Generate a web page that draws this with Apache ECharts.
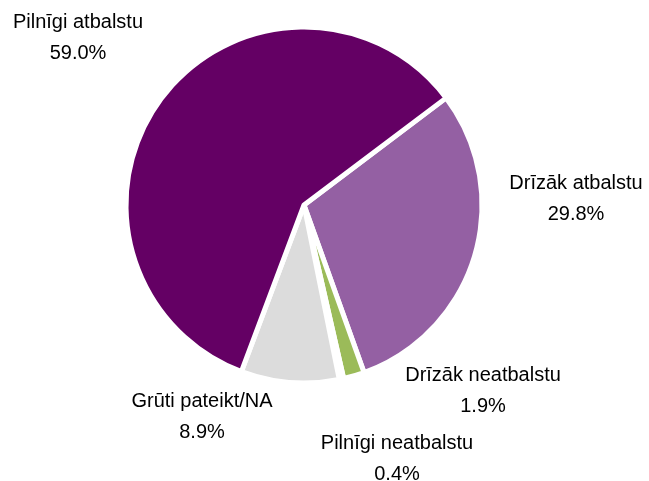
<!DOCTYPE html>
<html>
<head>
<meta charset="utf-8">
<script src="https://cdn.jsdelivr.net/npm/echarts@6/dist/echarts.min.js"></script>
<style>
  html, body { margin: 0; padding: 0; background: #fff; }
  #chart { width: 649px; height: 481px; }
</style>
</head>
<body>
<div id="chart"></div>
<script>
// slices in clockwise order, starting from the upper right
const categories = ["Drīzāk atbalstu", "Drīzāk neatbalstu", "Pilnīgi neatbalstu", "Grūti pateikt/NA", "Pilnīgi atbalstu"];
const values = [29.8, 1.9, 0.4, 8.9, 59.0];
const colors = ["#9460A3", "#9BBB59", "#4AACB0", "#DCDCDC", "#640064"];

// where each label sits (centre of the text block)
const labelPos = [[576, 199], [483, 391], [397, 459], [202, 417], [78, 38]];

var chartDom = document.getElementById("chart");
let chart = echarts.init(chartDom);

let seriesData = [];
for (let i = 0; i < categories.length; i++) {
  seriesData.push({
    name: categories[i],
    value: values[i],
    itemStyle: { color: colors[i] },
  });
}

let option = {
  animation: false,
  series: [
    {
      type: "pie",
      center: [304, 205],
      radius: 178,
      startAngle: 37,
      clockwise: true,
      avoidLabelOverlap: false,
      itemStyle: { borderColor: "#fff", borderWidth: 5 },
      emphasis: { disabled: true },
      labelLine: { show: false },
      label: {
        show: true,
        position: "outside",
        overflow: "none",
        fontFamily: "Liberation Sans",
        fontSize: 20,
        lineHeight: 31,
        color: "#000",
        align: "center",
        formatter: (p) => p.name + "\n" + p.value.toFixed(1) + "%",
      },
      labelLayout: (params) => ({
        x: labelPos[params.dataIndex][0],
        y: labelPos[params.dataIndex][1],
        align: "center",
        verticalAlign: "middle",
      }),
      data: seriesData,
    },
  ],
};
chart.setOption(option);
</script>
</body>
</html>
